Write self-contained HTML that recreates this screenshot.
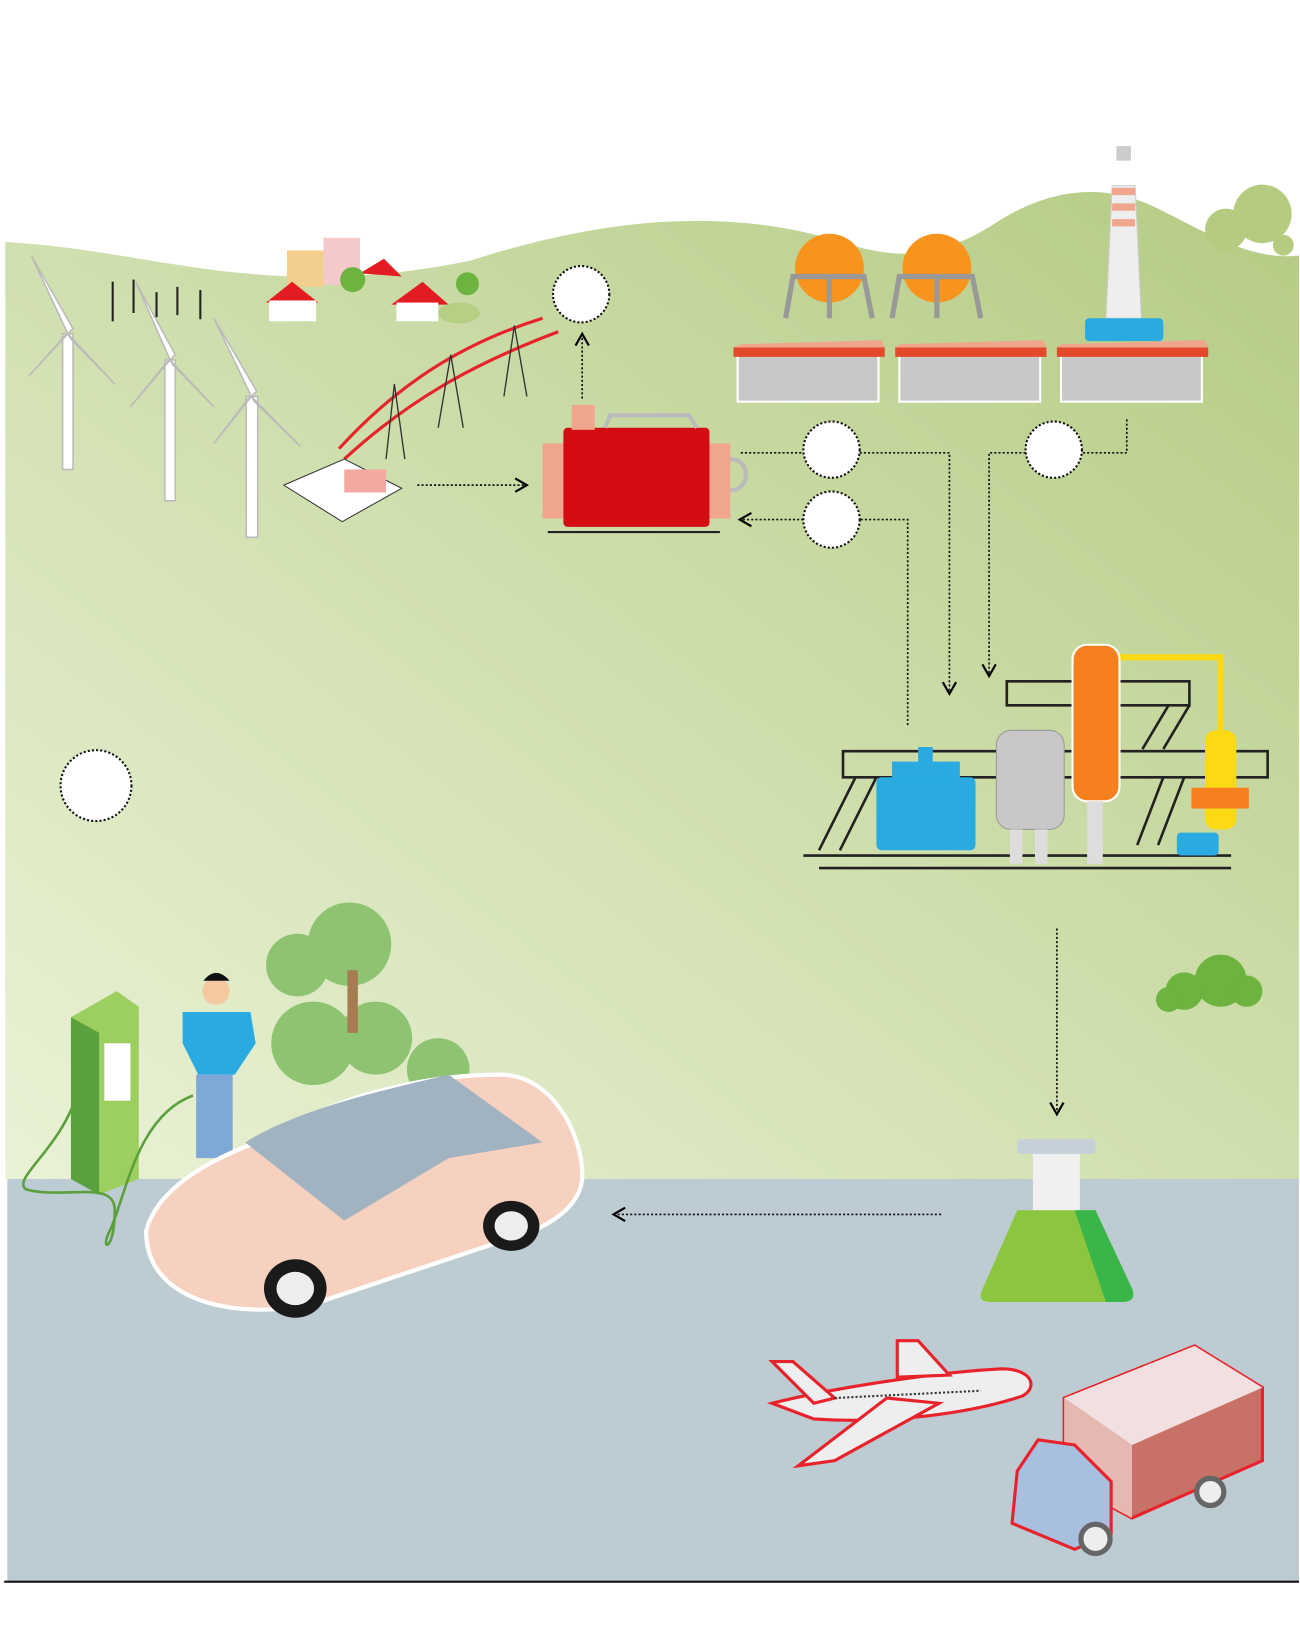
<!DOCTYPE html>
<html><head><meta charset="utf-8"><style>html,body{margin:0;padding:0;background:#fff}svg{display:block}</style></head><body>
<svg width="1300" height="1638" viewBox="0 0 1246 1570" xmlns="http://www.w3.org/2000/svg">
<defs>
<linearGradient id="g" x1="0" y1="1" x2="1" y2="0"><stop offset="0" stop-color="#eaf2d6"/><stop offset="1" stop-color="#b4cb84"/></linearGradient>
<marker id="a" markerWidth="10" markerHeight="10" refX="8" refY="5" orient="auto"><path d="M1,1 L8,5 L1,9" fill="none" stroke="#000" stroke-width="1.3"/></marker>
</defs>
<path d="M5,232 C150,240 250,290 450,250 C560,215 680,195 800,230 C860,250 900,250 960,210 C1010,180 1060,175 1110,200 C1160,225 1200,250 1245,245 L1245,1130 L5,1130 Z" fill="url(#g)"/>
<rect x="7" y="1130" width="1238" height="385" fill="#bdcbd3"/>
<line x1="4" y1="1516" x2="1245" y2="1516" stroke="#111" stroke-width="2"/>
<!-- wind turbines -->
<g stroke="#bbb" fill="#fff" stroke-width="1.5">
<rect x="60" y="320" width="10" height="130"/><path d="M65,320 L30,245 L70,315 Z M65,320 L110,368 L68,325 Z M65,320 L28,360 L62,322Z"/>
<rect x="158" y="345" width="10" height="135"/><path d="M163,345 L130,270 L168,340 Z M163,345 L205,390 L166,350 Z M163,345 L125,390 L160,347Z"/>
<rect x="236" y="380" width="11" height="135"/><path d="M241,380 L205,305 L246,375 Z M241,380 L288,428 L244,385 Z M241,380 L205,425 L238,382Z"/>
</g>
<g stroke="#222" stroke-width="2"><line x1="108" y1="270" x2="108" y2="308"/><line x1="128" y1="268" x2="128" y2="300"/><line x1="150" y1="280" x2="150" y2="304"/><line x1="170" y1="275" x2="170" y2="302"/><line x1="192" y1="278" x2="192" y2="306"/></g>
<!-- village -->
<rect x="310" y="228" width="35" height="45" fill="#f4c9c9"/><rect x="275" y="240" width="35" height="35" fill="#f2cf8f"/>
<path d="M255,290 L280,270 L305,290 Z M345,262 L368,248 L385,265 Z M375,292 L405,270 L430,292Z" fill="#e31b23"/>
<rect x="258" y="288" width="45" height="20" fill="#fff"/><rect x="380" y="290" width="40" height="18" fill="#fff"/>
<circle cx="338" cy="268" r="12" fill="#6cb33f"/><circle cx="448" cy="272" r="11" fill="#6cb33f"/><ellipse cx="440" cy="300" rx="20" ry="10" fill="#b5cf85"/>
<!-- pylons -->
<path d="M325,430 C380,370 440,330 520,305 M330,440 C390,385 450,350 535,318" stroke="#e8222a" stroke-width="3" fill="none"/>
<g stroke="#333" fill="none" stroke-width="1.3"><path d="M370,440 L378,368 L388,440 M420,410 L432,340 L444,410 M483,380 L493,312 L505,380"/></g>
<path d="M272,465 L330,440 L385,468 L328,500 Z" fill="#fff" stroke="#333"/><rect x="330" y="450" width="40" height="22" fill="#f3a8a0"/>
<!-- red electrolyzer -->
<rect x="520" y="425" width="30" height="72" fill="#f0a58d"/><rect x="675" y="425" width="25" height="72" fill="#f0a58d"/>
<rect x="540" y="410" width="140" height="95" rx="4" fill="#d30c14"/>
<rect x="548" y="388" width="22" height="24" fill="#f0a58d"/>
<path d="M580,410 L585,398 L660,398 L668,410" stroke="#bbb" stroke-width="4" fill="none"/>
<path d="M700,440 C720,440 720,470 700,470" stroke="#bbb" stroke-width="4" fill="none"/>
<line x1="525" y1="510" x2="690" y2="510" stroke="#222" stroke-width="2"/>
<!-- tanks & factory -->
<g fill="#f7941d"><circle cx="795" cy="257" r="33"/><circle cx="898" cy="257" r="33"/></g>
<g stroke="#999" stroke-width="5" fill="none"><path d="M753,305 L760,265 L828,265 L836,305 M795,265 L795,305 M855,305 L862,265 L932,265 L940,305 M898,265 L898,305"/></g>
<g><rect x="707" y="340" width="135" height="45" fill="#c8c8c8" stroke="#fff" stroke-width="2"/><rect x="862" y="340" width="135" height="45" fill="#c8c8c8" stroke="#fff" stroke-width="2"/><rect x="1017" y="340" width="135" height="45" fill="#c8c8c8" stroke="#fff" stroke-width="2"/>
<path d="M703,333 L848,333 L848,342 L703,342 Z M858,333 L1003,333 L1003,342 L858,342 Z M1013,333 L1158,333 L1158,342 L1013,342Z" fill="#e24a2b"/>
<path d="M710,330 L845,326 L848,333 L703,333Z M862,330 L1000,326 L1003,333 L858,333Z M1017,330 L1155,326 L1158,333 L1013,333Z" fill="#f0a58d"/></g>
<path d="M1060,305 L1066,178 L1088,178 L1094,305Z" fill="#eee" stroke="#ccc"/>
<rect x="1066" y="180" width="22" height="7" fill="#f0a58d"/><rect x="1066" y="195" width="22" height="7" fill="#f0a58d"/><rect x="1066" y="210" width="22" height="7" fill="#f0a58d"/>
<rect x="1070" y="140" width="14" height="14" fill="#ccc"/>
<rect x="1040" y="305" width="75" height="22" rx="4" fill="#29abe2"/>
<g fill="#b5cc80"><circle cx="1210" cy="205" r="28"/><circle cx="1175" cy="220" r="20"/><circle cx="1230" cy="235" r="10"/></g>
<!-- circles -->
<g fill="#fff" stroke="#111" stroke-width="2" stroke-dasharray="2 2"><circle cx="557" cy="282" r="27"/><circle cx="797" cy="431" r="27"/><circle cx="797" cy="498" r="27"/><circle cx="1010" cy="431" r="27"/><circle cx="92" cy="753" r="34"/></g>
<!-- arrows -->
<g stroke="#111" stroke-width="1.6" stroke-dasharray="2 2" fill="none" marker-end="url(#a)">
<path d="M400,465 L505,465"/><path d="M558,382 L558,320"/><path d="M710,434 L770,434 M824,434 L910,434 L910,665"/>
<path d="M870,695 L870,498 L824,498 M770,498 L709,498"/><path d="M1080,402 L1080,434 L1037,434 M983,434 L948,434 L948,648"/>
<path d="M1013,890 L1013,1068"/><path d="M902,1164 L588,1164"/>
</g>
<!-- chemical plant -->
<g stroke="#222" stroke-width="2.5" fill="none"><path d="M808,720 L1215,720 L1215,745 L808,745 Z M965,653 L1140,653 L1140,676 L965,676Z"/><path d="M770,820 L1180,820 M785,832 L1180,832"/><path d="M785,815 L820,745 M805,815 L840,745 M1090,810 L1115,745 M1110,810 L1135,745 M1095,718 L1120,676 M1115,718 L1140,676"/></g>
<path d="M1050,630 L1170,630 L1170,705" stroke="#fbd915" stroke-width="6" fill="none"/>
<rect x="1028" y="618" width="45" height="150" rx="14" fill="#f7801e" stroke="#fff" stroke-width="2"/>
<rect x="1155" y="700" width="30" height="95" rx="10" fill="#fbd915"/><rect x="1142" y="755" width="55" height="20" fill="#f7801e"/>
<rect x="955" y="700" width="65" height="95" rx="14" fill="#c8c8c8" stroke="#999"/>
<rect x="840" y="745" width="95" height="70" rx="5" fill="#29abe2"/><rect x="855" y="730" width="65" height="18" fill="#29abe2"/><rect x="880" y="716" width="14" height="16" fill="#29abe2"/>
<rect x="1128" y="798" width="40" height="22" rx="4" fill="#29abe2"/>
<rect x="1042" y="768" width="15" height="60" fill="#ddd"/><rect x="968" y="795" width="12" height="33" fill="#ddd"/><rect x="992" y="795" width="12" height="33" fill="#ddd"/>
<!-- bush -->
<g fill="#6cb33f"><circle cx="1170" cy="940" r="25"/><circle cx="1135" cy="950" r="18"/><circle cx="1195" cy="950" r="15"/><circle cx="1120" cy="958" r="12"/></g>
<!-- flask -->
<rect x="975" y="1092" width="75" height="14" rx="3" fill="#c5d0d8"/>
<path d="M990,1106 L1035,1106 L1035,1160 L1085,1235 Q1090,1248 1075,1248 L950,1248 Q935,1248 942,1235 L990,1160 Z" fill="#f0f0f0"/>
<path d="M975,1160 L1050,1160 L1085,1235 Q1090,1248 1075,1248 L950,1248 Q935,1248 942,1235 Z" fill="#8cc63f"/>
<path d="M1030,1160 L1050,1160 L1085,1235 Q1090,1248 1075,1248 L1060,1248 Z" fill="#39b54a"/>
<!-- trees left-bottom -->
<g fill="#8dc371"><circle cx="335" cy="905" r="40"/><circle cx="285" cy="925" r="30"/><circle cx="300" cy="1000" r="40"/><circle cx="360" cy="995" r="35"/><circle cx="420" cy="1025" r="30"/></g>
<rect x="333" y="930" width="10" height="60" fill="#a67c52"/>
<!-- charger -->
<path d="M68,975 L112,950 L133,965 L133,1130 L95,1145 L68,1130Z" fill="#9ccf5f"/><path d="M68,975 L95,990 L95,1145 L68,1130Z" fill="#5aa03c"/>
<rect x="100" y="1000" width="25" height="55" fill="#fff"/>
<path d="M75,1045 C60,1100 10,1130 25,1140 C60,1150 110,1130 110,1160 C110,1200 95,1200 105,1180 C120,1150 130,1070 185,1050" stroke="#5aa03c" stroke-width="2.5" fill="none"/>
<!-- person -->
<circle cx="207" cy="950" r="13" fill="#f5c9a0"/><path d="M195,940 Q207,925 220,940 Z" fill="#111"/>
<path d="M175,970 L240,970 L245,1000 L225,1030 L190,1030 L175,1000Z" fill="#29abe2"/>
<rect x="188" y="1030" width="35" height="80" fill="#7ea8d6"/>
<!-- car -->
<path d="M140,1180 C150,1140 200,1110 260,1090 C340,1040 430,1030 480,1030 C530,1030 560,1090 558,1130 C555,1160 520,1180 480,1190 L300,1250 C230,1265 140,1250 140,1180Z" fill="#f6d1bf" stroke="#fff" stroke-width="4"/>
<path d="M235,1095 C290,1060 390,1040 430,1030 L520,1095 L430,1110 L330,1170 Z" fill="#a1b3c1"/>
<ellipse cx="283" cy="1235" rx="30" ry="28" fill="#1a1a1a"/><ellipse cx="283" cy="1235" rx="18" ry="16" fill="#eee"/>
<ellipse cx="490" cy="1175" rx="27" ry="24" fill="#1a1a1a"/><ellipse cx="490" cy="1175" rx="16" ry="14" fill="#eee"/>
<!-- plane -->
<path d="M740,1345 C800,1330 900,1315 960,1312 C990,1312 995,1330 980,1338 C930,1355 850,1365 780,1360 Z" fill="#eee" stroke="#e8222a" stroke-width="3"/>
<path d="M850,1340 L765,1405 L800,1400 L900,1345 Z M860,1320 L860,1285 L880,1285 L910,1318 Z M780,1345 L740,1305 L760,1305 L800,1340Z" fill="#eee" stroke="#e8222a" stroke-width="3"/>
<line x1="800" y1="1340" x2="940" y2="1333" stroke="#333" stroke-width="2" stroke-dasharray="2 2"/>
<!-- truck -->
<path d="M1020,1340 L1145,1290 L1210,1330 L1210,1400 L1085,1455 L1020,1420Z" fill="#c87166" stroke="#e8222a" stroke-width="3"/>
<path d="M1020,1340 L1145,1290 L1210,1330 L1085,1385Z" fill="#f2dfe0"/><path d="M1020,1340 L1085,1385 L1085,1455 L1020,1420Z" fill="#e6b8b2"/>
<path d="M975,1410 L995,1380 L1030,1385 L1065,1420 L1065,1470 L1030,1485 L970,1460Z" fill="#a9bfe0" stroke="#e8222a" stroke-width="3"/>
<circle cx="1050" cy="1475" r="14" fill="#eee" stroke="#666" stroke-width="5"/><circle cx="1160" cy="1430" r="13" fill="#eee" stroke="#666" stroke-width="5"/>
</svg>
</body></html>
